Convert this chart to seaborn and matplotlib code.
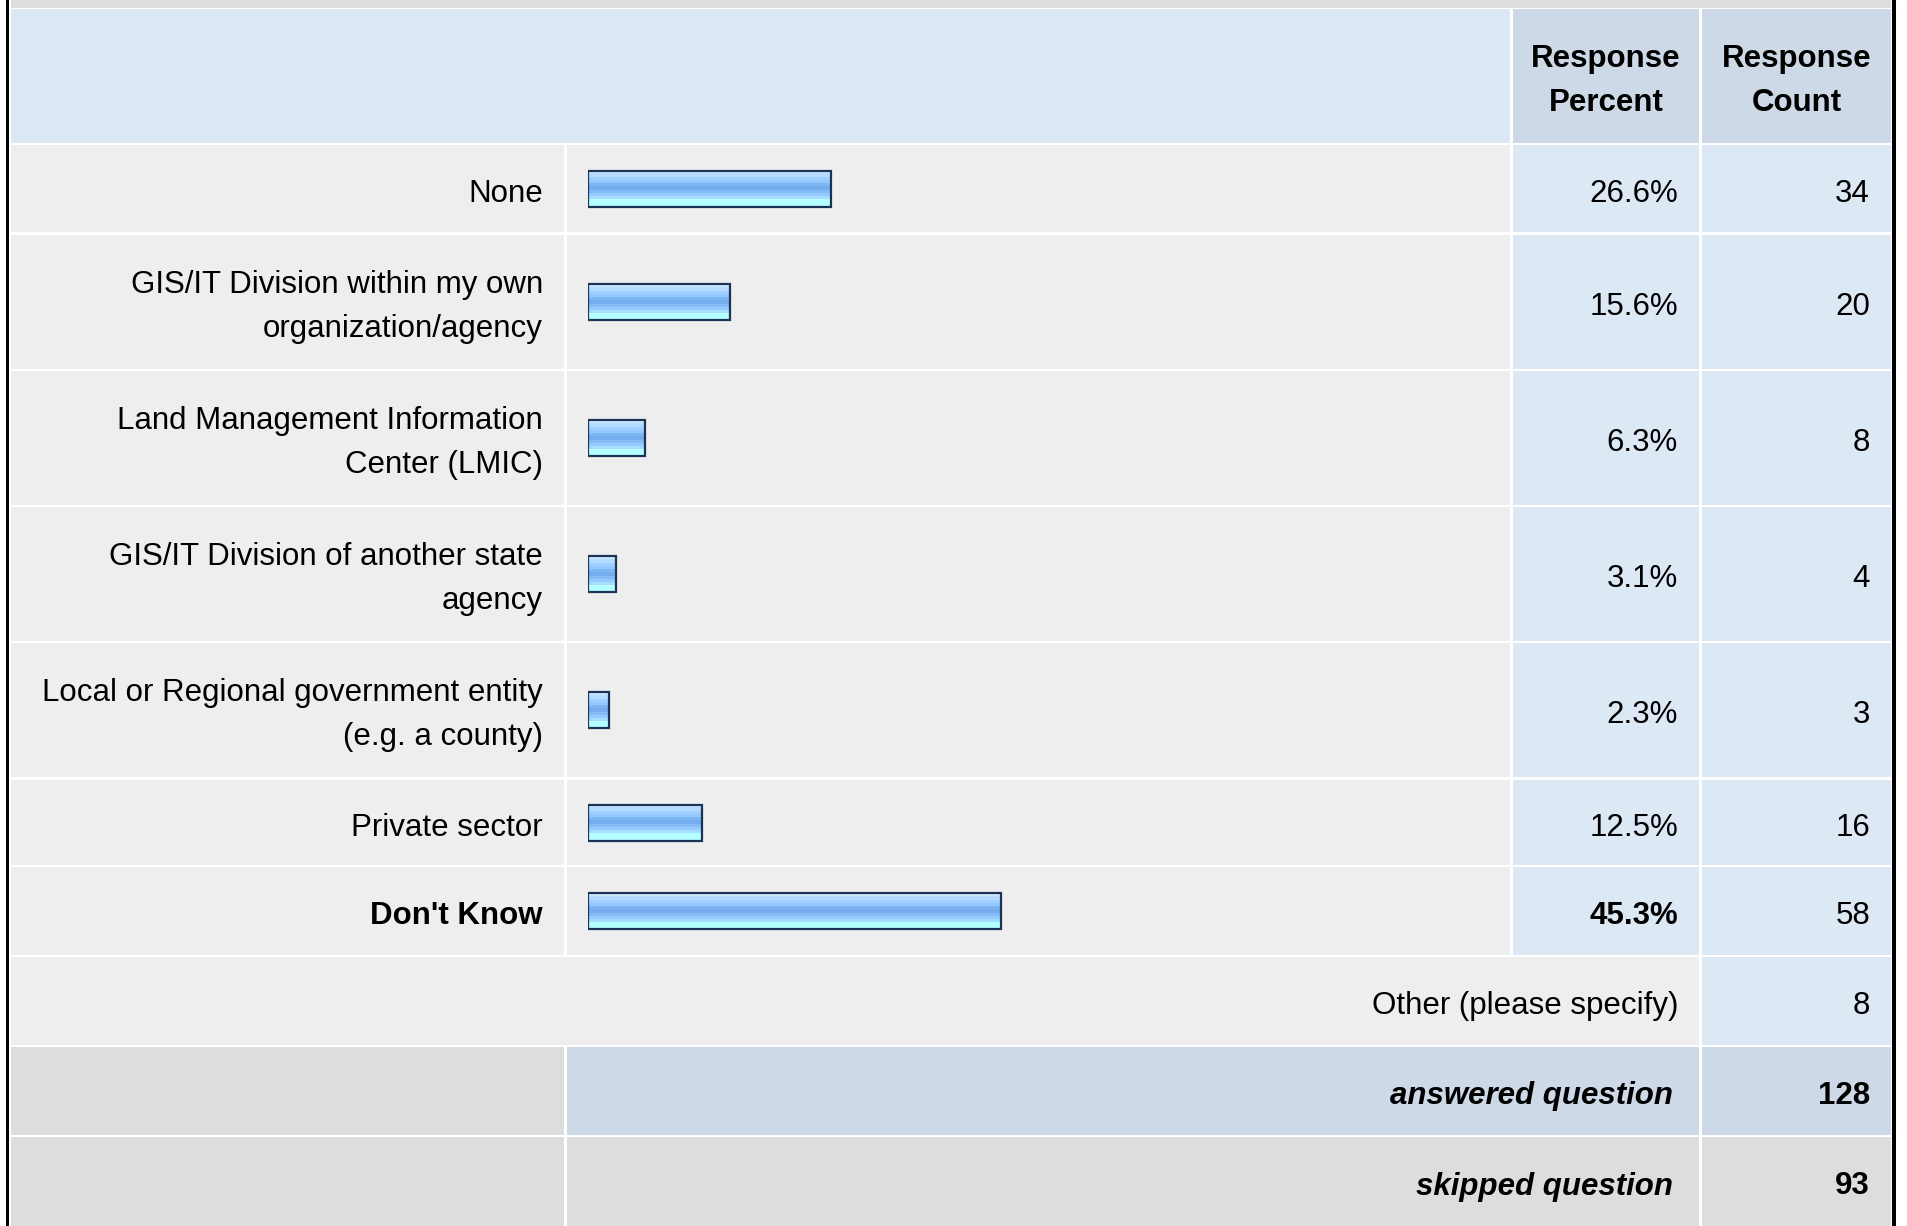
import matplotlib
matplotlib.use("Agg")
import matplotlib.pyplot as plt
from matplotlib.colors import to_rgb
from matplotlib.patches import Rectangle
import numpy as np
import pandas as pd
import seaborn as sns

# ----------------------------------------------------------------------
# Survey results
# ----------------------------------------------------------------------
categories = [
    "None",
    "GIS/IT Division within my own\norganization/agency",
    "Land Management Information\nCenter (LMIC)",
    "GIS/IT Division of another state\nagency",
    "Local or Regional government entity\n(e.g. a county)",
    "Private sector",
    "Don't Know",
]
percents = [26.6, 15.6, 6.3, 3.1, 2.3, 12.5, 45.3]
counts = [34, 20, 8, 4, 3, 16, 58]
bold_rows = ["Don't Know"]

other_label = "Other (please specify)"
other_count = 8
answered_label = "answered question"
answered_count = 128
skipped_label = "skipped question"
skipped_count = 93
header_labels = ["Response\nPercent", "Response\nCount"]

# ----------------------------------------------------------------------
# Table layout in pixels
# ----------------------------------------------------------------------
W, H = 1907, 1226
COL_LABEL = (11, 564)
COL_BAR = (567, 1510)
COL_PCT = (1513, 1699)
COL_CNT = (1702, 1891)
HEADER_ROW = (9, 143)
ANSWER_ROWS = [(145, 232), (235, 369), (371, 505), (507, 641),
               (643, 777), (780, 865), (867, 955)]
OTHER_ROW = (957, 1045)
ANSWERED_ROW = (1047, 1135)
SKIPPED_ROW = (1137, 1226)
BAR_X0, BAR_PX_PER_100 = 588, 912
BAR_HEIGHT_PX = 36

HEAD_BLUE = "#dde8f5"
HEAD_DARK = "#cdd9e6"
ROW_GRAY = "#eeeeee"
FOOT_GRAY = "#dddddd"
BAR_EDGE = "#1c3358"
BAR_GRADIENT = ["#cfe8ff", "#b4dbff", "#9fd0ff", "#94c8ff", "#7db5f2",
                "#74acee", "#84bdf6", "#94caff", "#a6dcff", "#b4ffff", "#b4ffff"]
FONT_SIZE = 22.5


def cell(ax, cols, rows, color):
    ax.add_patch(Rectangle((cols[0], rows[0]), cols[1] - cols[0], rows[1] - rows[0],
                           facecolor=color, edgecolor="none", zorder=1))


def text(ax, x, rows, s, ha="right", **kw):
    ax.text(x, (rows[0] + rows[1]) / 2 + 5, s, ha=ha, va="center",
            fontsize=FONT_SIZE, color="black", linespacing=1.65, zorder=5, **kw)


def draw_table():
    sns.set_style("white")
    plt.rcParams["font.family"] = ["Liberation Sans", "DejaVu Sans"]

    fig = plt.figure(figsize=(W / 100, H / 100), dpi=100, facecolor="white")
    ax = fig.add_axes([0, 0, 1, 1])
    ax.set_xlim(0, W)
    ax.set_ylim(H, 0)
    ax.axis("off")

    # outer frame and top strip
    cell(ax, (11, 1891), (0, 8), FOOT_GRAY)
    cell(ax, (6, 9), (0, H), "black")
    cell(ax, (1892, 1896), (0, H), "black")

    # header
    cell(ax, (COL_LABEL[0], COL_BAR[1]), HEADER_ROW, HEAD_BLUE)
    cell(ax, COL_PCT, HEADER_ROW, HEAD_DARK)
    cell(ax, COL_CNT, HEADER_ROW, HEAD_DARK)
    text(ax, sum(COL_PCT) / 2, HEADER_ROW, header_labels[0], ha="center", fontweight="bold")
    text(ax, sum(COL_CNT) / 2, HEADER_ROW, header_labels[1], ha="center", fontweight="bold")

    # answer rows
    for cat, pct, cnt, rows in zip(categories, percents, counts, ANSWER_ROWS):
        cell(ax, COL_LABEL, rows, ROW_GRAY)
        cell(ax, COL_BAR, rows, ROW_GRAY)
        cell(ax, COL_PCT, rows, HEAD_BLUE)
        cell(ax, COL_CNT, rows, HEAD_BLUE)
        weight = "bold" if cat in bold_rows else "normal"
        text(ax, 543, rows, cat, fontweight=weight)
        text(ax, 1678, rows, f"{pct:.1f}%", fontweight=weight)
        text(ax, 1870, rows, str(cnt))

    # other / totals
    cell(ax, (COL_LABEL[0], COL_PCT[1]), OTHER_ROW, ROW_GRAY)
    cell(ax, COL_CNT, OTHER_ROW, HEAD_BLUE)
    text(ax, 1678, OTHER_ROW, other_label)
    text(ax, 1870, OTHER_ROW, str(other_count))

    cell(ax, COL_LABEL, ANSWERED_ROW, FOOT_GRAY)
    cell(ax, (COL_BAR[0], COL_PCT[1]), ANSWERED_ROW, HEAD_DARK)
    cell(ax, COL_CNT, ANSWERED_ROW, HEAD_DARK)
    text(ax, 1673, ANSWERED_ROW, answered_label, fontweight="bold", fontstyle="italic")
    text(ax, 1870, ANSWERED_ROW, str(answered_count), fontweight="bold")

    cell(ax, COL_LABEL, SKIPPED_ROW, FOOT_GRAY)
    cell(ax, (COL_BAR[0], COL_PCT[1]), SKIPPED_ROW, FOOT_GRAY)
    cell(ax, COL_CNT, SKIPPED_ROW, FOOT_GRAY)
    text(ax, 1673, SKIPPED_ROW, skipped_label, fontweight="bold", fontstyle="italic")
    text(ax, 1870, SKIPPED_ROW, str(skipped_count), fontweight="bold")

    # bars: an axes spanning 0-100 % over the bar column, y in pixel rows
    centers = [(r[0] + r[1]) / 2 for r in ANSWER_ROWS]
    df = pd.DataFrame({"category": categories, "percent": percents, "ypos": centers})
    bar_ax = fig.add_axes([BAR_X0 / W, 0, BAR_PX_PER_100 / W, 1])
    sns.barplot(data=df, x="percent", y="ypos", orient="y", native_scale=True,
                width=BAR_HEIGHT_PX / np.diff(sorted(centers)).min(),
                color="#74acee", saturation=1, edgecolor=BAR_EDGE, linewidth=1.6,
                errorbar=None, ax=bar_ax)
    bar_ax.set_xlim(0, 100)
    bar_ax.set_ylim(H, 0)
    bar_ax.axis("off")

    # glossy vertical gradient clipped to each bar
    grad = np.array([to_rgb(c) for c in BAR_GRADIENT])[:, None, :]
    for patch in list(bar_ax.patches):
        x0, y0 = patch.get_x(), patch.get_y()
        w, h = patch.get_width(), patch.get_height()
        im = bar_ax.imshow(grad, extent=(x0, x0 + w, y0 + h, y0), origin="upper",
                           aspect="auto", interpolation="nearest", zorder=2)
        im.set_clip_path(patch)
        patch.set_facecolor("none")
        patch.set_zorder(3)
    bar_ax.set_xlim(0, 100)
    bar_ax.set_ylim(H, 0)

    fig.savefig("out.png", dpi=100, facecolor="white")


def main():
    draw_table()


if __name__ == "__main__":
    main()
